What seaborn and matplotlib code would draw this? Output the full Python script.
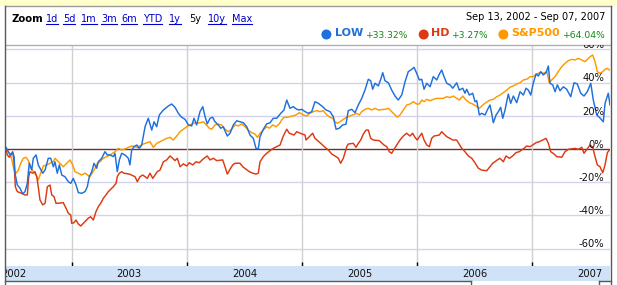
import matplotlib
matplotlib.use("Agg")
import matplotlib.pyplot as plt
import seaborn as sns
import pandas as pd
from matplotlib.lines import Line2D
from matplotlib.patches import Rectangle, Ellipse

# ---------------- data (decimal year, % change since start) ----------------
low_t = [2002.431, 2002.451, 2002.466, 2002.489, 2002.501, 2002.509, 2002.529, 2002.553, 2002.576, 2002.596,
         2002.616, 2002.633, 2002.654, 2002.668, 2002.692, 2002.711, 2002.750, 2002.770, 2002.798, 2002.819,
         2002.842, 2002.856, 2002.876, 2002.894, 2002.915, 2002.943, 2002.972, 2002.993, 2003.015, 2003.039,
         2003.059, 2003.088, 2003.117, 2003.137, 2003.154, 2003.175, 2003.195, 2003.218, 2003.232, 2003.262,
         2003.290, 2003.310, 2003.334, 2003.363, 2003.377, 2003.397, 2003.415, 2003.435, 2003.464, 2003.493,
         2003.507, 2003.522, 2003.542, 2003.566, 2003.588, 2003.609, 2003.638, 2003.666, 2003.696, 2003.716,
         2003.739, 2003.762, 2003.797, 2003.840, 2003.869, 2003.898, 2003.927, 2003.956, 2003.985, 2004.014,
         2004.043, 2004.063, 2004.086, 2004.115, 2004.139, 2004.159, 2004.178, 2004.202, 2004.225, 2004.245,
         2004.274, 2004.295, 2004.317, 2004.352, 2004.376, 2004.404, 2004.434, 2004.462, 2004.491, 2004.521,
         2004.549, 2004.578, 2004.601, 2004.621, 2004.636, 2004.665, 2004.694, 2004.723, 2004.751, 2004.781,
         2004.816, 2004.844, 2004.868, 2004.896, 2004.925, 2004.955, 2004.977, 2004.998, 2005.027, 2005.055,
         2005.085, 2005.113, 2005.142, 2005.172, 2005.209, 2005.244, 2005.272, 2005.296, 2005.324, 2005.354,
         2005.382, 2005.402, 2005.432, 2005.461, 2005.489, 2005.519, 2005.547, 2005.576, 2005.597, 2005.614,
         2005.634, 2005.663, 2005.684, 2005.701, 2005.721, 2005.750, 2005.779, 2005.808, 2005.836, 2005.866,
         2005.895, 2005.923, 2005.953, 2005.973, 2005.996, 2006.019, 2006.040, 2006.060, 2006.083, 2006.112,
         2006.140, 2006.170, 2006.192, 2006.213, 2006.233, 2006.257, 2006.285, 2006.309, 2006.343, 2006.366,
         2006.396, 2006.415, 2006.430, 2006.453, 2006.482, 2006.502, 2006.517, 2006.540, 2006.560, 2006.589,
         2006.609, 2006.632, 2006.647, 2006.661, 2006.685, 2006.705, 2006.725, 2006.743, 2006.763, 2006.791,
         2006.812, 2006.835, 2006.864, 2006.893, 2006.922, 2006.945, 2006.965, 2006.986, 2007.008, 2007.032,
         2007.052, 2007.073, 2007.095, 2007.119, 2007.139, 2007.153, 2007.177, 2007.197, 2007.217, 2007.240,
         2007.269, 2007.298, 2007.333, 2007.362, 2007.390, 2007.420, 2007.448, 2007.477, 2007.507, 2007.529,
         2007.559, 2007.581, 2007.616, 2007.631, 2007.659, 2007.674]
low_v = [1.0, -1.6, -3.6, -2.2, -4.6, -14.6, -21.7, -23.7, -27.1, -25.7,
         -20.7, -8.6, -12.7, -5.6, -3.6, -9.6, -14.6, -12.7, -5.6, -5.6,
         -10.7, -7.7, -14.6, -9.6, -15.7, -16.7, -19.7, -20.7, -17.7, -21.7,
         -26.3, -26.7, -25.7, -22.7, -16.7, -13.7, -8.6, -11.6, -7.7, -5.6,
         -1.6, -3.6, -3.6, -4.6, -2.6, -13.7, -6.6, -2.6, -3.6, -5.6,
         -9.6, -0.6, 1.4, 2.4, 0.4, 2.4, 13.4, 18.5, 11.4, 16.4,
         13.4, 20.5, 23.5, 25.9, 27.1, 25.1, 21.5, 19.1, 17.9, 14.5,
         13.9, 18.5, 14.5, 22.5, 25.5, 19.5, 15.1, 18.5, 19.1, 16.4,
         14.5, 12.5, 13.4, 7.8, 9.5, 14.5, 17.0, 16.4, 15.8, 13.4,
         8.4, 6.4, 0.4, 0.0, 7.4, 11.9, 15.1, 15.8, 18.5, 18.5,
         21.5, 23.5, 29.5, 24.5, 25.5, 23.9, 23.5, 23.9, 22.5, 21.5,
         22.5, 28.5, 27.5, 25.9, 23.5, 22.5, 19.5, 11.9, 12.5, 14.5,
         14.9, 23.1, 23.9, 21.9, 26.5, 30.5, 35.5, 42.0, 41.1, 36.0,
         39.6, 38.0, 42.0, 46.0, 41.1, 39.9, 35.5, 31.9, 29.5, 32.5,
         40.5, 46.6, 48.0, 49.2, 45.6, 41.6, 42.0, 36.0, 39.6, 37.5,
         43.6, 41.6, 45.0, 47.6, 43.6, 39.6, 38.6, 36.6, 39.9, 35.5,
         36.6, 33.6, 36.0, 32.5, 33.6, 28.5, 29.1, 20.5, 21.5, 20.5,
         23.5, 26.5, 21.5, 15.8, 20.5, 22.5, 25.1, 18.5, 23.5, 33.1,
         27.5, 31.9, 27.9, 34.5, 32.5, 36.6, 35.5, 32.5, 39.6, 45.2,
         44.0, 46.6, 44.6, 46.0, 50.0, 39.6, 38.6, 34.5, 38.6, 35.1,
         37.5, 36.0, 31.5, 39.9, 39.2, 33.6, 31.9, 34.5, 39.6, 29.5,
         20.5, 19.1, 16.4, 27.5, 33.6, 26.5]

hd_t = [2002.431, 2002.442, 2002.460, 2002.489, 2002.501, 2002.512, 2002.529, 2002.553, 2002.596, 2002.616,
        2002.628, 2002.639, 2002.663, 2002.683, 2002.698, 2002.711, 2002.726, 2002.750, 2002.770, 2002.790,
        2002.813, 2002.828, 2002.848, 2002.865, 2002.885, 2002.928, 2002.952, 2002.972, 2002.993, 2003.001,
        2003.021, 2003.039, 2003.059, 2003.080, 2003.102, 2003.145, 2003.166, 2003.189, 2003.212, 2003.232,
        2003.253, 2003.276, 2003.299, 2003.319, 2003.340, 2003.363, 2003.386, 2003.397, 2003.415, 2003.435,
        2003.455, 2003.501, 2003.551, 2003.571, 2003.594, 2003.618, 2003.658, 2003.681, 2003.705, 2003.744,
        2003.768, 2003.797, 2003.826, 2003.855, 2003.878, 2003.898, 2003.918, 2003.942, 2003.970, 2004.000,
        2004.022, 2004.052, 2004.080, 2004.109, 2004.139, 2004.178, 2004.202, 2004.231, 2004.260, 2004.312,
        2004.332, 2004.352, 2004.376, 2004.399, 2004.419, 2004.462, 2004.486, 2004.514, 2004.543, 2004.573,
        2004.601, 2004.621, 2004.636, 2004.665, 2004.694, 2004.723, 2004.751, 2004.781, 2004.810, 2004.838,
        2004.868, 2004.890, 2004.931, 2004.955, 2004.983, 2005.027, 2005.035, 2005.064, 2005.093, 2005.113,
        2005.163, 2005.200, 2005.229, 2005.258, 2005.287, 2005.316, 2005.336, 2005.359, 2005.389, 2005.402,
        2005.446, 2005.469, 2005.489, 2005.510, 2005.533, 2005.556, 2005.576, 2005.597, 2005.619, 2005.672,
        2005.712, 2005.736, 2005.758, 2005.779, 2005.799, 2005.823, 2005.851, 2005.880, 2005.909, 2005.938,
        2005.961, 2005.981, 2006.001, 2006.040, 2006.060, 2006.083, 2006.106, 2006.126, 2006.146, 2006.192,
        2006.213, 2006.257, 2006.285, 2006.309, 2006.343, 2006.387, 2006.415, 2006.444, 2006.474, 2006.502,
        2006.531, 2006.560, 2006.604, 2006.656, 2006.696, 2006.719, 2006.748, 2006.771, 2006.800, 2006.829,
        2006.858, 2006.887, 2006.928, 2006.951, 2006.980, 2007.003, 2007.032, 2007.060, 2007.090, 2007.119,
        2007.139, 2007.159, 2007.188, 2007.211, 2007.255, 2007.284, 2007.312, 2007.370, 2007.399, 2007.429,
        2007.448, 2007.501, 2007.524, 2007.544, 2007.564, 2007.587, 2007.611, 2007.631, 2007.651, 2007.670]
hd_v = [0.4, -3.6, -5.0, -1.6, -7.7, -22.7, -25.7, -26.3, -27.7, -27.7,
        -16.7, -13.7, -14.6, -13.7, -16.7, -22.7, -30.7, -33.7, -32.7, -22.7,
        -21.7, -27.7, -28.7, -32.7, -32.7, -32.3, -35.7, -38.7, -39.8, -44.8,
        -44.4, -42.8, -45.2, -46.4, -44.8, -41.7, -40.8, -42.8, -37.8, -34.8,
        -32.7, -29.7, -27.7, -25.7, -24.3, -22.7, -20.7, -16.7, -14.6, -13.7,
        -14.6, -15.1, -16.7, -19.7, -16.7, -15.7, -17.7, -14.6, -17.7, -13.7,
        -12.7, -7.7, -6.6, -4.2, -5.6, -7.0, -5.6, -10.7, -9.0, -10.2,
        -8.3, -9.6, -7.7, -8.3, -6.2, -4.2, -6.6, -5.6, -7.0, -6.6,
        -10.7, -15.1, -12.2, -9.6, -8.6, -8.6, -10.7, -12.2, -13.7, -14.6,
        -15.1, -14.6, -7.7, -4.6, -2.6, -1.0, 0.4, 1.4, 2.4, 7.8,
        11.9, 9.5, 8.4, 10.4, 9.5, 8.4, 5.4, 7.4, 9.5, 6.4,
        3.4, 1.0, -0.6, -3.0, -4.2, -5.6, -8.6, -5.6, 1.4, 3.0,
        3.4, 1.0, 3.4, 5.4, 9.0, 11.4, 11.4, 6.4, 5.4, 5.0,
        2.4, 1.4, -1.6, -2.6, -0.2, 2.4, 5.4, 7.8, 9.5, 7.8,
        9.5, 7.0, 5.4, 9.5, 5.4, 2.4, 1.4, 6.4, 7.8, 8.4,
        10.4, 7.4, 6.4, 5.4, 5.4, 0.4, -1.6, -4.2, -5.6, -8.3,
        -11.6, -12.7, -13.1, -8.6, -6.6, -5.6, -7.7, -4.2, -5.6, -4.2,
        -2.2, -1.6, 0.4, 1.8, 1.4, 2.4, 3.8, 4.4, 5.4, 6.4,
        3.4, -1.6, -3.0, -4.6, -5.0, -1.6, -0.2, 0.4, -0.2, 1.0,
        -2.6, 2.4, 1.0, -4.6, -9.6, -10.7, -14.3, -9.6, -2.2, -0.6]

spx_t = [2002.431, 2002.472, 2002.501, 2002.518, 2002.538, 2002.559, 2002.581, 2002.605, 2002.625, 2002.645,
         2002.668, 2002.692, 2002.711, 2002.732, 2002.755, 2002.784, 2002.813, 2002.842, 2002.856, 2002.876,
         2002.900, 2002.928, 2002.958, 2002.987, 2003.010, 2003.030, 2003.059, 2003.088, 2003.117, 2003.160,
         2003.204, 2003.224, 2003.247, 2003.276, 2003.305, 2003.334, 2003.377, 2003.406, 2003.435, 2003.464,
         2003.493, 2003.522, 2003.571, 2003.623, 2003.681, 2003.710, 2003.739, 2003.768, 2003.797, 2003.826,
         2003.855, 2003.883, 2003.913, 2003.942, 2003.970, 2004.000, 2004.028, 2004.057, 2004.086, 2004.115,
         2004.144, 2004.196, 2004.217, 2004.245, 2004.274, 2004.303, 2004.332, 2004.361, 2004.390, 2004.419,
         2004.448, 2004.477, 2004.506, 2004.534, 2004.564, 2004.593, 2004.613, 2004.636, 2004.665, 2004.694,
         2004.717, 2004.746, 2004.775, 2004.803, 2004.824, 2004.844, 2004.873, 2004.920, 2004.948, 2004.977,
         2005.012, 2005.041, 2005.070, 2005.099, 2005.128, 2005.157, 2005.185, 2005.215, 2005.244, 2005.267,
         2005.287, 2005.307, 2005.330, 2005.359, 2005.389, 2005.417, 2005.475, 2005.498, 2005.519, 2005.547,
         2005.576, 2005.606, 2005.634, 2005.663, 2005.721, 2005.750, 2005.779, 2005.808, 2005.828, 2005.851,
         2005.880, 2005.909, 2005.938, 2005.967, 2005.996, 2006.019, 2006.040, 2006.060, 2006.083, 2006.112,
         2006.140, 2006.170, 2006.227, 2006.257, 2006.285, 2006.314, 2006.343, 2006.366, 2006.396, 2006.424,
         2006.453, 2006.482, 2006.511, 2006.540, 2006.580, 2006.609, 2006.632, 2006.661, 2006.691, 2006.719,
         2006.748, 2006.777, 2006.806, 2006.835, 2006.864, 2006.893, 2006.922, 2006.951, 2006.980, 2007.008,
         2007.038, 2007.066, 2007.095, 2007.125, 2007.147, 2007.168, 2007.197, 2007.225, 2007.255, 2007.284,
         2007.312, 2007.342, 2007.370, 2007.399, 2007.429, 2007.457, 2007.501, 2007.524, 2007.544, 2007.564,
         2007.587, 2007.611, 2007.631, 2007.651, 2007.670]
spx_v = [0.4, -3.6, -12.7, -14.6, -12.7, -8.6, -5.6, -5.0, -7.0, -10.7,
         -13.7, -15.7, -18.7, -14.6, -10.2, -9.6, -8.6, -7.7, -5.6, -7.0,
         -8.6, -10.7, -8.6, -6.6, -9.6, -13.7, -14.6, -15.7, -14.6, -16.7,
         -11.6, -8.6, -7.7, -5.6, -4.6, -3.6, -1.6, 0.4, -0.6, 0.0,
         1.0, 1.8, 1.0, 3.0, 4.4, 1.0, 3.4, 4.4, 5.4, 6.4,
         7.0, 5.4, 7.8, 10.4, 11.9, 13.4, 14.5, 15.5, 15.5, 15.8,
         16.4, 12.5, 11.9, 14.5, 14.9, 14.5, 11.9, 10.4, 11.9, 14.5,
         13.9, 15.1, 13.4, 11.4, 9.8, 9.0, 7.0, 9.5, 11.4, 13.4,
         12.5, 14.5, 13.4, 15.1, 17.5, 19.1, 19.1, 19.9, 20.5, 21.9,
         20.5, 19.9, 21.5, 22.5, 23.1, 22.5, 23.1, 20.5, 19.1, 18.5,
         16.4, 15.5, 16.4, 17.9, 19.1, 19.9, 21.5, 20.5, 22.5, 23.9,
         24.5, 23.5, 24.5, 23.5, 23.9, 24.5, 22.5, 20.5, 19.1, 20.5,
         23.5, 26.5, 27.1, 28.5, 27.1, 27.1, 29.5, 28.5, 29.9, 29.1,
         29.9, 30.5, 30.5, 31.5, 31.0, 31.9, 30.5, 29.5, 31.9, 29.5,
         27.9, 27.1, 25.9, 24.5, 27.1, 28.5, 29.5, 29.9, 31.5, 32.5,
         33.9, 35.5, 37.2, 38.0, 39.2, 39.9, 41.6, 42.0, 43.6, 43.6,
         45.2, 46.0, 45.6, 46.6, 39.9, 41.6, 43.6, 46.6, 49.6, 51.6,
         53.2, 54.0, 53.6, 54.6, 53.6, 52.6, 55.6, 56.6, 52.6, 46.6,
         45.6, 46.6, 48.0, 48.6, 47.6]

tickers = ["LOW", "HD", "S&P500"]
changes = ["+33.32%", "+3.27%", "+64.04%"]
colors = {"LOW": "#1f6fdc", "HD": "#dd3a12", "S&P500": "#ff9900"}
years = [2002, 2003, 2004, 2005, 2006, 2007]
pct_ticks = [-60, -40, -20, 0, 20, 40, 60]
zoom_links = ["1d", "5d", "1m", "3m", "6m", "YTD", "1y", "5y", "10y", "Max"]
date_range = "Sep 13, 2002 - Sep 07, 2007"

df = pd.concat([
    pd.DataFrame({"year": low_t, "pct": low_v, "ticker": "LOW"}),
    pd.DataFrame({"year": hd_t, "pct": hd_v, "ticker": "HD"}),
    pd.DataFrame({"year": spx_t, "pct": spx_v, "ticker": "S&P500"}),
], ignore_index=True)

# ---------------- figure / layout ----------------
W, H = 617, 285
fig = plt.figure(figsize=(W / 100, H / 100), dpi=100, facecolor="white")
def fx(px): return px / W
def fy(py): return 1 - py / H

# header yellow strip and frame lines
fig.add_artist(Rectangle((0, fy(5.5)), 1, 5.5 / H, transform=fig.transFigure,
                         facecolor="#ffffcc", edgecolor="none", zorder=0))
def fline(xs, ys, c="#5a5a5a", lw=1.0):
    fig.add_artist(Line2D([fx(v) for v in xs], [fy(v) for v in ys],
                          transform=fig.transFigure, color=c, lw=lw, zorder=5))
fline([4.5, 611], [5.5, 5.5], c="#9a9a9a")
fline([4.5, 4.5], [5.5, 285], c="#5a5a5a")
fline([611, 611], [5.5, 285], c="#5a5a5a")
fline([4.5, 470.5], [281, 281])
fline([470.5, 470.5], [281, 285])
fline([598.5, 611], [281, 281])
fline([598.5, 598.5], [281, 285])

# ---------------- main chart ----------------
x0, x1 = 2002.431, 2007.674
ax = fig.add_axes([fx(6), fy(265.5), fx(610) - fx(6), (265.5 - 45) / H])
ax.set_xlim(x0, x1)
ax.set_ylim(-70.2, 62.65)
ax.set_facecolor("white")
for p in pct_ticks:
    ax.axhline(p, color="#663333" if p == 0 else "#d2d2ee", lw=1.0, zorder=1)
for yv in years[1:]:
    ax.axvline(yv, color="#d0d0d0", lw=1.0, zorder=1)

sns.lineplot(data=df, x="year", y="pct", hue="ticker", hue_order=["S&P500", "HD", "LOW"],
             palette=colors, estimator=None, sort=False, legend=False,
             linewidth=1.05, ax=ax, zorder=3)

ax.set_xticks(years[1:])
ax.set_xticklabels([])
ax.set_yticks([])
ax.set_xlabel("")
ax.set_ylabel("")
ax.tick_params(axis="x", direction="in", length=2.6, width=1.0, color="black", pad=0)
for s in ["left", "right", "bottom"]:
    ax.spines[s].set_visible(False)
ax.spines["top"].set_color("#b0b0b0")
ax.spines["top"].set_linewidth(1.0)

ytr = ax.get_yaxis_transform()
for p in pct_ticks:
    ax.text(0.990, p + 0.7, f"{p}%", transform=ytr, ha="right", va="baseline",
            fontsize=7.2, color="#111111", clip_on=True, zorder=4)

# ---------------- year band ----------------
bx = fig.add_axes([fx(6), fy(280.5), fx(610) - fx(6), (280.5 - 266) / H])
bx.set_xlim(x0, x1)
bx.set_ylim(0, 1)
bx.set_facecolor("#cfe2f7")
bx.set_xticks([]); bx.set_yticks([])
for s in bx.spines.values():
    s.set_visible(False)
for yv in years:
    bx.text(yv + 0.5, 0.5, str(yv), ha="center", va="center_baseline",
            fontsize=7.2, color="#111111", clip_on=True)

# ---------------- header ----------------
fig.text(fx(11.5), fy(21.5), "Zoom", fontsize=7.3, fontweight="bold",
         color="black", va="baseline", ha="left")
link_x = [46, 63, 81, 101, 121, 143, 169, 189, 208, 232]
link_objs = []
for lbl, lx in zip(zoom_links, link_x):
    col = "black" if lbl == "5y" else "#0000cc"
    t = fig.text(fx(lx), fy(21.5), lbl, fontsize=7.0, color=col, va="baseline", ha="left")
    if lbl != "5y":
        link_objs.append(t)

fig.text(fx(605), fy(20), date_range, fontsize=7.0, color="black",
         ha="right", va="baseline")

dot_x = [326.4, 423.7, 503.4]
name_x = [335, 431.5, 511]
chg_x = [365.8, 451.5, 563]
for tk, ch, dx, nx, cx in zip(tickers, changes, dot_x, name_x, chg_x):
    fig.add_artist(Ellipse((fx(dx), fy(34.5)), 10 / W, 10 / H, transform=fig.transFigure,
                           facecolor=colors[tk], edgecolor="none", zorder=6))
    fig.text(fx(nx), fy(36.5), tk, fontsize=8.0, fontweight="bold", color=colors[tk],
             ha="left", va="baseline")
    fig.text(fx(cx), fy(38), ch, fontsize=6.6, color="#118811", ha="left", va="baseline")

# underline the links
fig.canvas.draw()
r = fig.canvas.get_renderer()
for t in link_objs:
    bb = t.get_window_extent(renderer=r)
    fig.add_artist(Line2D([bb.x0 / W, bb.x1 / W], [fy(23.5), fy(23.5)],
                          transform=fig.transFigure, color="#0000cc", lw=0.8))

fig.savefig("out.png", dpi=100, facecolor="white")
